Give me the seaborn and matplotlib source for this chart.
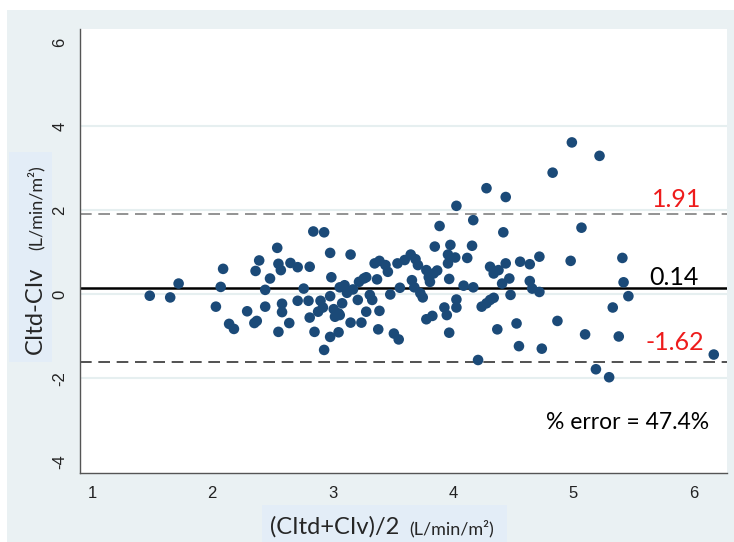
import matplotlib
matplotlib.use("Agg")
import matplotlib.pyplot as plt
from matplotlib.patches import Rectangle
import seaborn as sns

# Bland-Altman data: mean of the two CI measurements vs their difference
mean_ci = [1.48, 1.65, 1.72, 2.03, 2.07, 2.09, 2.14, 2.18, 2.29, 2.35, 2.37, 2.36, 2.39, 2.44, 2.44,
           2.48, 2.54, 2.55, 2.57, 2.58, 2.58, 2.55, 2.64, 2.65, 2.71, 2.71, 2.76, 2.80, 2.81, 2.81,
           2.84, 2.93, 2.85, 2.88, 2.90, 2.92, 2.93,
           2.98, 2.99, 2.98, 3.01, 3.02, 3.05, 3.06, 3.08, 2.98, 3.05, 3.06, 3.10, 3.12, 3.15, 3.15,
           3.17, 3.21, 3.22, 3.24, 3.26, 3.28, 3.28, 3.31, 3.33, 3.35, 3.39, 3.37, 3.39, 3.38, 3.44,
           3.46, 3.48, 3.51, 3.55, 3.54, 3.56, 3.60, 3.65, 3.69, 3.71, 3.66, 3.68, 3.73, 3.75, 3.78,
           3.80, 3.81, 3.84, 3.87, 3.78, 3.83, 3.85, 3.89, 3.93, 3.95, 3.97, 3.96, 3.96, 3.98, 4.02,
           3.97, 4.03, 4.03, 4.03, 4.09, 4.12, 4.16, 4.17, 4.17, 4.21, 4.24, 4.28, 4.31, 4.34, 4.31,
           4.34, 4.38, 4.41, 4.42, 4.44, 4.47, 4.48, 4.37, 4.53, 4.55, 4.56,
           4.28, 4.44, 4.83, 4.99, 5.22,
           5.07, 4.64, 4.72, 4.98, 5.41, 4.64, 4.66, 4.72, 5.42, 5.46, 5.33, 4.87, 4.74, 5.10, 5.38,
           5.19, 5.30, 6.17]
diff_ci = [-0.04, -0.08, 0.25, -0.30, 0.17, 0.60, -0.71, -0.83, -0.41, -0.69, -0.64, 0.55, 0.80, -0.30, 0.10,
           0.37, 1.10, 0.72, 0.57, -0.23, -0.43, -0.90, -0.69, 0.74, 0.64, -0.16, 0.13, -0.16, 0.65, -0.56,
           1.49, 1.47, -0.90, -0.42, -0.16, -0.32, -1.33,
           0.98, 0.40, -0.05, -0.36, -0.54, -0.46, -0.50, -0.22, -1.02, -0.91, 0.16, 0.21, 0.03, 0.94, -0.68,
           0.11, -0.14, 0.29, -0.68, 0.37, 0.40, -0.42, -0.02, -0.14, 0.73, 0.79, 0.35, -0.40, -0.84, 0.69,
           0.53, -0.01, -0.94, -1.08, 0.73, 0.15, 0.81, 0.94, 0.83, 0.69, 0.33, 0.16, 0.02, -0.08, 0.57,
           0.40, 0.29, 0.49, 0.56, -0.60, -0.52, 1.13, 1.62, -0.32, -0.50, 0.36, 0.73, 0.94, 1.17, 0.87,
           -0.92, -0.13, -0.32, 2.10, 0.20, 0.86, 1.15, 1.76, 0.16, -1.57, -0.30, -0.22, -0.14, -0.09, 0.65,
           0.49, 0.57, 0.25, 1.47, 0.73, 0.37, -0.02, -0.84, -0.70, -1.24, 0.77,
           2.52, 2.31, 2.89, 3.61, 3.29,
           1.58, 0.71, 0.89, 0.79, 0.86, 0.31, 0.13, 0.05, 0.28, -0.05, -0.32, -0.64, -1.30, -0.96, -1.01,
           -1.79, -1.98, -1.44]

bias = 0.14
upper_loa = 1.91
lower_loa = -1.62
pct_error = 47.4

x_ticks = [1, 2, 3, 4, 5, 6]
y_ticks = [-4, -2, 0, 2, 4, 6]

sns.set_style("white")
plt.rcParams['font.family'] = ['Liberation Sans', 'DejaVu Sans']

W, H = 734, 542
fig = plt.figure(figsize=(W / 100, H / 100), dpi=100, facecolor="white")

# light panel behind everything, white strip at top and left
fig.add_artist(Rectangle((7 / W, 0), 1, (H - 10) / H, transform=fig.transFigure,
                         facecolor="#eaf1f3", edgecolor="none", zorder=-2))

ax = fig.add_axes([80 / W, (H - 473) / H, (727 - 80) / W, (473 - 29) / H])
ax.set_facecolor("white")

# faint grid only on the inner ticks
for t in y_ticks[1:-1]:
    ax.axhline(t, color="#e6eff0", lw=1.5, zorder=1)

sns.scatterplot(x=mean_ci, y=diff_ci, ax=ax, color="#1b4a78", s=58, edgecolor="none", zorder=3)

ax.axhline(bias, color="black", lw=1.8, zorder=2)
ax.axhline(upper_loa, color="#808080", lw=1.2, ls=(0, (7, 4)), zorder=2)
ax.axhline(lower_loa, color="#333333", lw=1.2, ls=(0, (7, 4)), zorder=2)

ax.text(5.865, 2.24, f"{upper_loa:.2f}", color="#ee1c1c", fontsize=18,
        family="Lato", ha="center", va="center")
ax.text(5.84, 0.40, f"{bias:.2f}", color="black", fontsize=18,
        family="Lato", ha="center", va="center")
ax.text(5.85, -1.16, f"{lower_loa:.2f}", color="#ee1c1c", fontsize=18,
        family="Lato", ha="center", va="center")
ax.text(5.45, -3.05, f"% error = {pct_error}%", color="black", fontsize=16.5,
        family="Lato", ha="center", va="center")

ax.set_xlim(0.9, 6.28)
ax.set_ylim(-4.26, 6.31)
ax.set_xticks(x_ticks)
ax.set_yticks(y_ticks)
ax.set_yticklabels([str(t) for t in y_ticks], rotation=90, va="center")
ax.tick_params(axis="both", direction="out", length=5, width=1, color="#666666",
               labelsize=12, labelcolor="#222222", pad=4)
ax.grid(False)
for side in ["top", "right"]:
    ax.spines[side].set_visible(False)
for side in ["left", "bottom"]:
    ax.spines[side].set_color("#555555")
    ax.spines[side].set_linewidth(1)

# axis titles: big name plus small units, on a pale box
fig.add_artist(Rectangle((262 / W, 0), (507 - 262) / W, (H - 505) / H, transform=fig.transFigure,
                         facecolor="#e3edf7", edgecolor="none", zorder=-1))
fig.text(270 / W, (H - 534) / H, "(CItd+CIv)/2", fontsize=17, family="Lato",
         ha="left", va="baseline")
fig.text(409 / W, (H - 534) / H, "(L/min/m²)", fontsize=13, family="Lato",
         ha="left", va="baseline")

fig.add_artist(Rectangle((9 / W, (H - 362) / H), (52 - 9) / W, (362 - 152) / H, transform=fig.transFigure,
                         facecolor="#e3edf7", edgecolor="none", zorder=-1))
fig.text(42 / W, (H - 354) / H, "CItd-CIv", fontsize=17, family="Lato", rotation=90,
         rotation_mode="anchor", ha="left", va="baseline")
fig.text(42 / W, (H - 250) / H, "(L/min/m²)", fontsize=13, family="Lato", rotation=90,
         rotation_mode="anchor", ha="left", va="baseline")

fig.savefig("out.png", dpi=100)
